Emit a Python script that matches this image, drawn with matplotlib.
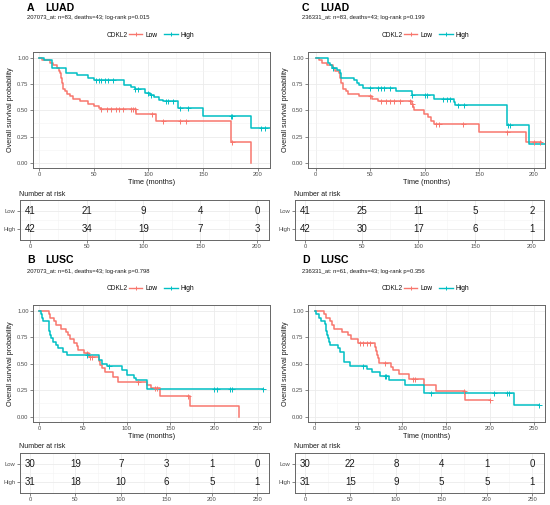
import numpy as np
import matplotlib
matplotlib.use('Agg')
import matplotlib.pyplot as plt
from matplotlib.lines import Line2D
from matplotlib.ticker import MultipleLocator, FixedLocator

plt.rcParams['font.family'] = ['Liberation Sans', 'DejaVu Sans']

LOW_C = '#F8766D'
HIGH_C = '#00BFC4'

# ---------------- data ----------------
# Panel A (LUAD, 207073_at)
a_low_t = [0, 3, 10, 13, 16, 18, 19, 20, 21, 22, 24, 26, 28, 31, 37, 45, 50, 55, 57, 89, 107, 175, 194]
a_low_s = [1, .976, .951, .927, .902, .878, .854, .805, .756, .707, .683, .659, .634, .61, .585, .561, .537, .524, .512, .46, .40, .20, 0]
a_low_cens = [57, 62, 66, 70, 73, 77, 84, 86, 88, 103, 113, 129, 134, 176]
a_low_end = 194
a_high_t = [0, 5, 12, 25, 35, 45, 50, 78, 84, 88, 97, 101, 105, 110, 113, 127, 150, 194]
a_high_s = [1, .976, .905, .857, .833, .81, .786, .745, .72, .70, .665, .643, .63, .60, .585, .52, .447, .335]
a_high_cens = [52, 55, 57, 60, 63, 68, 88, 90, 100, 102, 116, 118, 122, 129, 136, 175, 176, 203, 206]
a_high_end = 211

# Panel C (LUAD, 236331_at)
c_low_t = [0, 3, 6, 10, 16, 18, 21, 22, 23, 25, 28, 30, 40, 52, 57, 88, 89, 90, 99, 103, 106, 108, 150, 193]
c_low_s = [1, .976, .951, .927, .902, .878, .854, .805, .756, .707, .683, .659, .634, .61, .585, .555, .53, .50, .467, .435, .40, .371, .292, .197]
c_low_cens = [50, 60, 64, 68, 72, 77, 86, 88, 110, 113, 135, 175, 200, 205]
c_low_end = 206
c_high_t = [0, 11, 13, 15, 20, 22, 23, 35, 38, 40, 43, 74, 88, 108, 127, 128, 175, 195]
c_high_s = [1, .952, .929, .905, .881, .857, .81, .786, .762, .738, .714, .68, .65, .61, .575, .546, .356, .18]
c_high_cens = [16, 50, 57, 60, 63, 68, 88, 100, 102, 117, 120, 123, 130, 136, 176, 178]
c_high_end = 211

# Panel B (LUSC, 207073_at)
b_low_t = [0, 12, 13, 17, 20, 25, 31, 33, 35, 40, 43, 45, 51, 57, 68, 70, 72, 75, 85, 90, 123, 128, 138, 172, 228]
b_low_s = [1, .967, .933, .90, .867, .833, .80, .767, .733, .70, .667, .633, .60, .567, .53, .49, .46, .42, .375, .325, .30, .273, .20, .10, 0]
b_low_cens = [55, 58, 60, 113, 132, 135, 170]
b_low_end = 228
b_high_t = [0, 2, 4, 5, 11, 12, 13, 14, 16, 19, 22, 27, 32, 68, 72, 78, 95, 100, 108, 111, 123]
b_high_s = [1, .968, .935, .903, .871, .806, .774, .742, .71, .677, .645, .613, .58, .54, .50, .476, .437, .395, .37, .347, .257]
b_high_cens = [55, 80, 200, 203, 218, 220, 256]
b_high_end = 256

# Panel D (LUSC, 236331_at)
d_low_t = [0, 11, 13, 17, 20, 22, 31, 38, 42, 50, 69, 70, 71, 72, 74, 87, 90, 96, 108, 125, 139, 172]
d_low_s = [1, .967, .933, .90, .867, .833, .80, .767, .733, .70, .66, .62, .58, .55, .51, .47, .44, .40, .36, .30, .24, .16]
d_low_cens = [52, 55, 60, 63, 80, 112, 115, 170, 200]
d_low_end = 200
d_high_t = [0, 2, 5, 7, 12, 13, 14, 15, 16, 18, 27, 29, 33, 34, 40, 60, 65, 75, 85, 103, 125, 228]
d_high_s = [1, .968, .935, .903, .871, .806, .774, .742, .71, .68, .645, .613, .55, .517, .482, .45, .418, .386, .347, .30, .225, .113]
d_high_cens = [55, 80, 82, 133, 205, 220, 222, 256]
d_high_end = 256

# risk tables
a_risk_times = [0, 50, 100, 150, 200]
a_risk_low = [41, 21, 9, 4, 0]
a_risk_high = [42, 34, 19, 7, 3]
c_risk_times = [0, 50, 100, 150, 200]
c_risk_low = [41, 25, 11, 5, 2]
c_risk_high = [42, 30, 17, 6, 1]
b_risk_times = [0, 50, 100, 150, 200, 250]
b_risk_low = [30, 19, 7, 3, 1, 0]
b_risk_high = [31, 18, 10, 6, 5, 1]
d_risk_times = [0, 50, 100, 150, 200, 250]
d_risk_low = [30, 22, 8, 4, 1, 0]
d_risk_high = [31, 15, 9, 5, 5, 1]

titles = {'A': 'LUAD', 'C': 'LUAD', 'B': 'LUSC', 'D': 'LUSC'}
subtitles = {
    'A': '207073_at: n=83, deaths=43; log-rank p=0.015',
    'C': '236331_at: n=83, deaths=43; log-rank p=0.199',
    'B': '207073_at: n=61, deaths=43; log-rank p=0.798',
    'D': '236331_at: n=61, deaths=43; log-rank p=0.356',
}

W, H = 550, 505
fig = plt.figure(figsize=(W / 100, H / 100), dpi=100)

BORDER = '#666666'
GRID = '#EBEBEB'
TXT = '#4D4D4D'


def px_axes(l, t, r, b):
    return fig.add_axes([l / W, 1 - b / H, (r - l) / W, (b - t) / H])


def style(ax, xlim, xmax_tick, ylim):
    ax.set_xlim(*xlim)
    ax.set_ylim(*ylim)
    ax.xaxis.set_major_locator(FixedLocator(list(range(0, xmax_tick + 1, 50))))
    ax.xaxis.set_minor_locator(MultipleLocator(25))
    ax.grid(True, which='major', color=GRID, lw=0.6, zorder=0)
    ax.grid(True, which='minor', color='#F3F3F3', lw=0.4, zorder=0)
    for s in ax.spines.values():
        s.set_color(BORDER)
        s.set_linewidth(0.7)
    ax.tick_params(which='major', length=2, width=0.5, color='#555555',
                   labelsize=4.2, labelcolor=TXT, pad=1.2)
    ax.tick_params(which='minor', length=0)
    ax.set_axisbelow(True)


def km(ax, t, s, cens, end, color):
    tt = list(t) + [end]
    ss = list(s) + [s[-1]]
    ax.step(tt, ss, where='post', color=color, lw=1.1, zorder=3)
    ct = np.array(cens, dtype=float)
    idx = np.searchsorted(np.array(t, dtype=float), ct, side='right') - 1
    cs = np.array(s)[idx]
    ax.plot(ct, cs, ls='none', marker='+', ms=3.6, mew=0.7, color=color, zorder=4)


panels = {
    'A': dict(x0=0, top=52, bot=168, xmax=200, xlim=(-5.5, 211),
              low=(a_low_t, a_low_s, a_low_cens, a_low_end),
              high=(a_high_t, a_high_s, a_high_cens, a_high_end),
              risk=(a_risk_times, a_risk_low, a_risk_high), rtop=200, rbot=240,
              rxlim=(-8.8, 210.6), ty=8, sy=18, ly=35, xly=182.5, nry=194),
    'C': dict(x0=275, top=52, bot=168, xmax=200, xlim=(-7, 210),
              low=(c_low_t, c_low_s, c_low_cens, c_low_end),
              high=(c_high_t, c_high_s, c_high_cens, c_high_end),
              risk=(c_risk_times, c_risk_low, c_risk_high), rtop=200, rbot=240,
              rxlim=(-8.8, 210.6), ty=8, sy=18, ly=35, xly=182.5, nry=194),
    'B': dict(x0=0, top=305, bot=422, xmax=250, xlim=(-6.8, 263.7),
              low=(b_low_t, b_low_s, b_low_cens, b_low_end),
              high=(b_high_t, b_high_s, b_high_cens, b_high_end),
              risk=(b_risk_times, b_risk_low, b_risk_high), rtop=453, rbot=493,
              rxlim=(-11, 263), ty=260, sy=271, ly=289, xly=436.5, nry=446.5),
    'D': dict(x0=275, top=305, bot=422, xmax=250, xlim=(-7.6, 263),
              low=(d_low_t, d_low_s, d_low_cens, d_low_end),
              high=(d_high_t, d_high_s, d_high_cens, d_high_end),
              risk=(d_risk_times, d_risk_low, d_risk_high), rtop=453, rbot=493,
              rxlim=(-11, 263), ty=260, sy=271, ly=289, xly=436.5, nry=446.5),
}

for key, p in panels.items():
    x0 = p['x0']
    ax = px_axes(x0 + 33, p['top'], x0 + 270, p['bot'])
    style(ax, p['xlim'], p['xmax'], (-0.05, 1.055))
    ax.yaxis.set_major_locator(FixedLocator([0, 0.25, 0.5, 0.75, 1.0]))
    ax.yaxis.set_minor_locator(FixedLocator([0.125, 0.375, 0.625, 0.875]))
    ax.set_yticklabels(['0.00', '0.25', '0.50', '0.75', '1.00'])
    km(ax, *p['low'], LOW_C)
    km(ax, *p['high'], HIGH_C)
    ax.set_ylabel('Overall survival probability', fontsize=5.2, color='#1A1A1A', labelpad=2)
    fig.text((x0 + (33 + 270) / 2) / W, 1 - p['xly'] / H, 'Time (months)',
             ha='center', va='center', fontsize=5.3, color='#1A1A1A')

    # titles
    fig.text((x0 + 27) / W, 1 - p['ty'] / H, key, ha='left', va='center',
             fontsize=7.6, fontweight='bold', color='black')
    fig.text((x0 + 45) / W, 1 - p['ty'] / H, titles[key], ha='left', va='center',
             fontsize=7.6, fontweight='bold', color='black')
    fig.text((x0 + 27) / W, 1 - p['sy'] / H, subtitles[key], ha='left', va='center',
             fontsize=4.2, color='#1A1A1A')

    # legend
    fig.text((x0 + 107) / W, 1 - p['ly'] / H, 'CDKL2', ha='left', va='center',
             fontsize=4.8, color='#1A1A1A')
    handles = [Line2D([], [], color=LOW_C, lw=1.0, marker='+', ms=3.5, mew=0.7),
               Line2D([], [], color=HIGH_C, lw=1.0, marker='+', ms=3.5, mew=0.7)]
    fig.legend(handles, ['Low', 'High'], ncol=2, frameon=False,
               loc='center left', bbox_to_anchor=((x0 + 129) / W, 1 - p['ly'] / H),
               fontsize=4.8, handlelength=2.0, handletextpad=0.5, columnspacing=1.0,
               borderpad=0, borderaxespad=0)

    # risk table
    times, rlow, rhigh = p['risk']
    rx = px_axes(x0 + 20, p['rtop'], x0 + 269, p['rbot'])
    style(rx, p['rxlim'], p['xmax'], (-0.65, 1.65))
    rx.set_yticks([1, 0])
    rx.set_yticklabels(['Low', 'High'])
    rx.yaxis.set_minor_locator(FixedLocator([0.5]))
    rx.grid(True, which='major', axis='y', color=GRID, lw=0.6)
    for tm, lo, hi in zip(times, rlow, rhigh):
        rx.text(tm, 1, str(lo), ha='center', va='center', fontsize=7, color='#1A1A1A')
        rx.text(tm, 0, str(hi), ha='center', va='center', fontsize=7, color='#1A1A1A')
    fig.text((x0 + 19) / W, 1 - p['nry'] / H, 'Number at risk', ha='left', va='center',
             fontsize=5.0, color='#1A1A1A')

fig.savefig('out.png', dpi=100, facecolor='white')
